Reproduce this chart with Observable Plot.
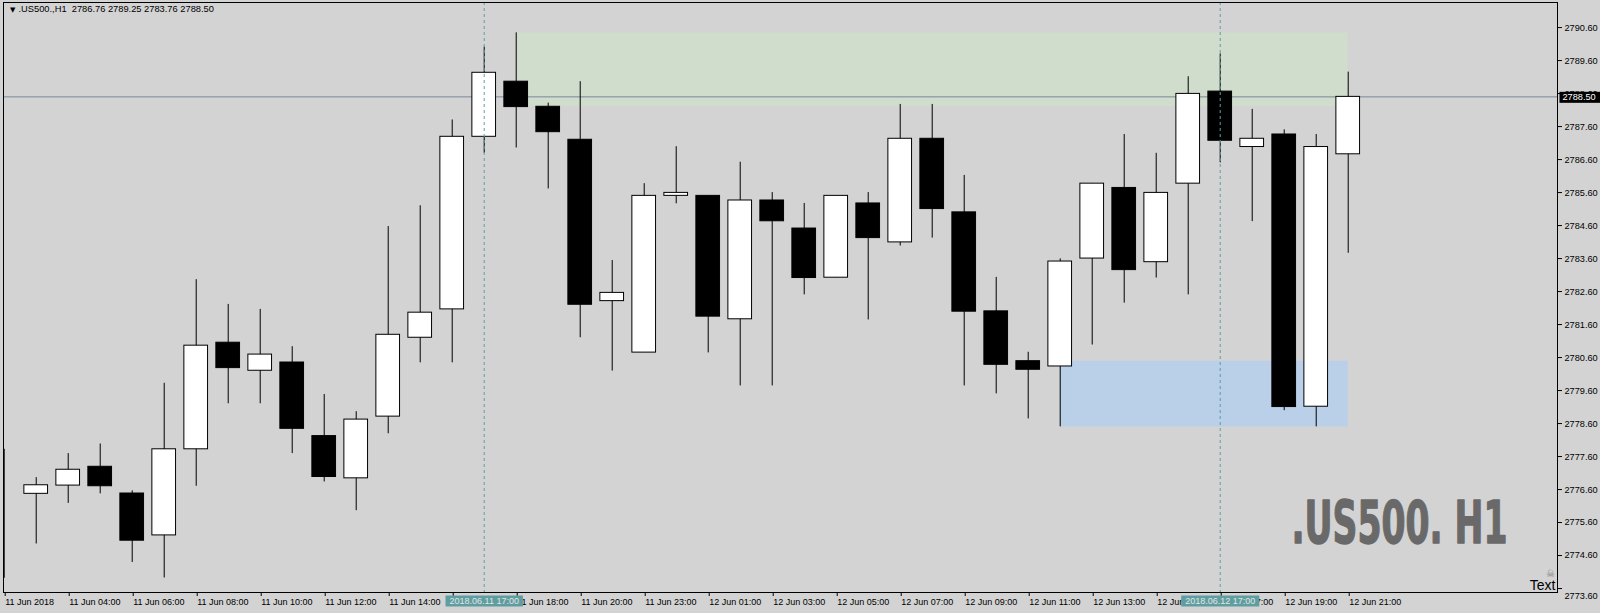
<!DOCTYPE html>
<html><head><meta charset="utf-8">
<script src="https://cdn.jsdelivr.net/npm/d3@7"></script>
<script src="https://cdn.jsdelivr.net/npm/@observablehq/plot@0.6"></script>
<style>html,body{margin:0;padding:0;background:#d3d3d3;overflow:hidden}svg{display:block}</style>
</head><body><div id="chart"></div>
<script>
const symbol = ".US500.,H1";
const watermark = ".US500. H1";
const opens  = [2776.48,2776.47,2776.72,2777.29,2776.48,2775.21,2777.82,2781.05,2780.20,2780.45,2778.22,2776.94,2778.81,2781.20,2782.06,2787.29,2788.96,2788.20,2787.20,2782.31,2780.75,2785.50,2785.50,2781.76,2785.36,2784.51,2783.02,2785.27,2784.09,2787.23,2785.00,2782.00,2780.49,2780.33,2783.60,2785.74,2783.49,2785.87,2788.66,2786.98,2787.36,2779.11,2786.76];
const highs  = [2777.82,2776.96,2777.69,2777.98,2776.56,2779.82,2782.96,2782.21,2782.06,2780.93,2779.48,2778.96,2784.57,2785.20,2787.80,2790.01,2790.44,2788.31,2788.96,2783.54,2785.87,2786.99,2785.50,2786.52,2785.60,2785.27,2785.50,2785.60,2788.27,2788.27,2786.12,2783.03,2780.76,2783.59,2785.87,2787.36,2786.79,2789.11,2789.80,2788.12,2787.50,2787.36,2789.25];
const lows   = [2773.91,2774.95,2776.18,2776.47,2774.39,2773.92,2776.70,2779.20,2779.20,2777.69,2776.83,2775.96,2778.29,2780.44,2780.44,2786.79,2786.95,2785.71,2781.20,2780.19,2780.75,2785.26,2780.74,2779.74,2779.74,2782.50,2783.02,2781.74,2783.98,2784.22,2779.74,2779.50,2778.74,2778.50,2780.98,2782.25,2783.01,2782.50,2786.50,2784.72,2778.99,2778.50,2783.76];
const closes = [2776.48,2776.73,2777.20,2776.70,2775.05,2777.82,2780.96,2780.28,2780.69,2778.44,2776.98,2778.72,2781.29,2781.96,2787.29,2789.23,2788.19,2787.43,2782.20,2782.56,2785.50,2785.59,2781.84,2785.36,2784.73,2783.01,2785.50,2784.22,2787.23,2785.10,2781.99,2780.38,2780.23,2783.51,2785.87,2783.25,2785.59,2788.59,2787.17,2787.23,2779.10,2786.98,2788.50];

const xTickLabels = ["11 Jun 2018","11 Jun 04:00","11 Jun 06:00","11 Jun 08:00","11 Jun 10:00","11 Jun 12:00","11 Jun 14:00","11 Jun 16:00","11 Jun 18:00","11 Jun 20:00","11 Jun 23:00","12 Jun 01:00","12 Jun 03:00","12 Jun 05:00","12 Jun 07:00","12 Jun 09:00","12 Jun 11:00","12 Jun 13:00","12 Jun 15:00","12 Jun 17:00","12 Jun 19:00","12 Jun 21:00"];
const yTicks = [2773.60,2774.60,2775.60,2776.60,2777.60,2778.60,2779.60,2780.60,2781.60,2782.60,2783.60,2784.60,2785.60,2786.60,2787.60,2788.60,2789.60,2790.60];

const crossBars = [15, 38];
const crossLabels = ["2018.06.11 17:00", "2018.06.12 17:00"];

const zoneStart = [16, 33];
const zoneEnd   = [42, 42];
const zoneLow   = [2788.20, 2778.50];
const zoneHigh  = [2790.44, 2780.49];
const zoneFill  = ["#d0dccc", "#bacfe8"];

const bars = opens.map((o, i) => ({i, o, h: highs[i], l: lows[i], c: closes[i]}));
const zones = zoneStart.map((s, k) => ({s, e: zoneEnd[k], lo: zoneLow[k], hi: zoneHigh[k], f: zoneFill[k]}));
const last = bars[bars.length - 1];
const tickBars = xTickLabels.map((_, j) => 2 * j);
const header = `${symbol}  ${last.o.toFixed(2)} ${last.h.toFixed(2)} ${last.l.toFixed(2)} ${last.c.toFixed(2)}`;
const bottomTick = yTicks[0];
const half = 0.37;
const font = "'Liberation Sans', Arial, sans-serif";

const chart = Plot.plot({
  width: 1600, height: 613,
  marginLeft: 3, marginRight: 43, marginTop: 2, marginBottom: 21,
  style: {background: "#d3d3d3", fontFamily: font, fontSize: "9.2px", color: "black", overflow: "visible"},
  x: {type: "linear", domain: [-0.022, 48.54], axis: null},
  y: {domain: [2773.48, 2791.36], axis: null},
  color: {type: "identity"},
  marks: [
    Plot.rect(zones, {x1: "s", x2: "e", y1: "lo", y2: "hi", fill: "f"}),
    Plot.ruleY([last.c], {stroke: "#778899", strokeWidth: 1}),
    Plot.ruleX(bars, {x: "i", y1: "l", y2: "h", stroke: "black", strokeWidth: 1, clip: true}),
    Plot.rect(bars, {x1: d => d.i - half, x2: d => d.i + half, y1: "o", y2: "c",
      fill: d => d.c > d.o ? "white" : "black", stroke: "black", strokeWidth: 1, clip: true}),
    Plot.ruleX(crossBars, {x: d => d, stroke: "#5f9ea0", strokeWidth: 1, strokeDasharray: "3,3"}),
    Plot.frame({stroke: "black"}),
    Plot.axisY(yTicks, {anchor: "right", tickSize: 4, tickPadding: 3, fill: "black", stroke: "black",
      tickFormat: d => d === bottomTick ? "" : d.toFixed(2), fontSize: 9.2}),
    Plot.text([bottomTick], {y: d => d, frameAnchor: "right", dx: 7, dy: 8, textAnchor: "start",
      text: d => d.toFixed(2), fill: "black", fontSize: 9.2}),
    Plot.axisX(tickBars, {anchor: "bottom", tickSize: 4, tickPadding: 2, textAnchor: "start", dx: 1,
      tickFormat: d => xTickLabels[tickBars.indexOf(d)], fill: "black", stroke: "black", fontSize: 9}),
    Plot.text(crossBars, {x: d => d, frameAnchor: "bottom", dy: 11, text: (d, k) => crossLabels[k],
      fill: "#e4e4e4", fontSize: 9}),
    Plot.text([last.c], {y: d => d, frameAnchor: "right", dx: 5, textAnchor: "start",
      text: d => d.toFixed(2), fill: "white", fontSize: 9.2}),
    Plot.text([header], {frameAnchor: "top-left", dx: 15, dy: 3, lineAnchor: "top", textAnchor: "start",
      text: d => d, fill: "black", fontSize: 9.3}),
    Plot.text(["▼"], {frameAnchor: "top-left", dx: 6.5, dy: 4.5, lineAnchor: "top", textAnchor: "start",
      text: d => d, fill: "black", fontSize: 7, fontFamily: "DejaVu Sans"}),
    Plot.text([watermark], {frameAnchor: "bottom-right", dx: -50, dy: -50, lineAnchor: "bottom", textAnchor: "end",
      text: d => d, fill: "#696969", stroke: "#696969", strokeWidth: 1.4, fontSize: 59, fontWeight: "bold",
      fontFamily: "'Liberation Sans Narrow', 'DejaVu Sans Condensed', sans-serif"}),
    Plot.text(["Text"], {frameAnchor: "bottom-right", dx: -2, dy: -3, lineAnchor: "bottom", textAnchor: "end",
      text: d => d, fill: "black", fontSize: 14}),
    Plot.text(["☠"], {frameAnchor: "bottom-right", dx: -7, dy: -16, lineAnchor: "bottom", textAnchor: "middle",
      text: d => d, fill: "#808080", fontSize: 10, fontFamily: "DejaVu Sans"})
  ]
});
document.getElementById("chart").appendChild(chart);

// label boxes behind text (price tag and crosshair time labels)
const ns = "http://www.w3.org/2000/svg";
chart.querySelectorAll("text").forEach(t => {
  const s = t.textContent;
  let fill = null, padX = 0;
  if (s === last.c.toFixed(2) && t.closest("g").getAttribute("fill") === "white") { fill = "black"; padX = 3; }
  if (crossLabels.includes(s)) { fill = "#5f9ea0"; padX = 4; }
  if (s === watermark) { t.setAttribute("textLength", 216); t.setAttribute("lengthAdjust", "spacingAndGlyphs"); }
  if (!fill) return;
  const b = t.getBBox();
  const r = document.createElementNS(ns, "rect");
  r.setAttribute("x", b.x - padX);
  r.setAttribute("y", b.y);
  r.setAttribute("width", fill === "black" ? 1600 : b.width + 2 * padX);
  r.setAttribute("height", b.height + 1);
  r.setAttribute("fill", fill);
  r.setAttribute("stroke", "none");
  const tr = t.getAttribute("transform");
  if (tr) r.setAttribute("transform", tr);
  t.parentNode.insertBefore(r, t);
});
</script>
</body></html>
